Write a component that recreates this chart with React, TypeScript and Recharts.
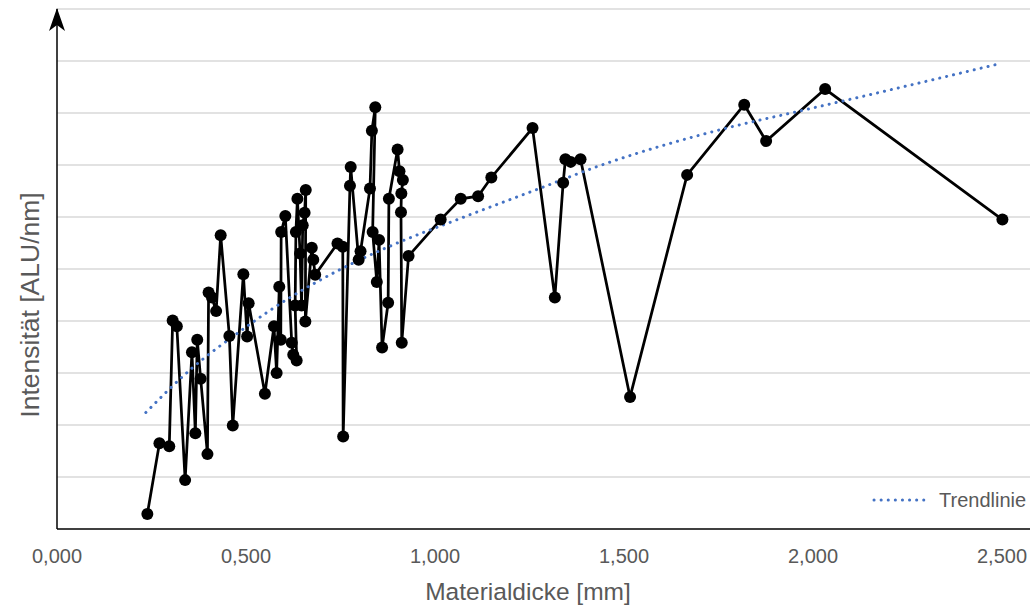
import { LineChart, Line, XAxis, YAxis, ReferenceLine } from 'recharts';

// Materialdicke [mm] of each measurement, in the order they are joined
const thickness = [
  0.239, 0.271, 0.297, 0.306, 0.317, 0.339, 0.357, 0.366, 0.371, 0.38,
  0.398, 0.401, 0.41, 0.421, 0.433, 0.456, 0.465, 0.493, 0.503, 0.507,
  0.55, 0.574, 0.581, 0.588, 0.592, 0.593, 0.604, 0.621, 0.625, 0.634,
  0.63, 0.632, 0.636, 0.643, 0.647, 0.65, 0.655, 0.658, 0.657, 0.674,
  0.678, 0.683, 0.742, 0.756, 0.757, 0.775, 0.777, 0.798, 0.803, 0.828,
  0.833, 0.842, 0.835, 0.846, 0.852, 0.86, 0.876, 0.878, 0.901, 0.906,
  0.915, 0.911, 0.91, 0.912, 0.93, 1.015, 1.068, 1.114, 1.149, 1.258,
  1.317, 1.339, 1.345, 1.359, 1.385, 1.516, 1.667, 1.818, 1.876, 2.032,
  2.501,
];

// Intensität (no scale shown on the axis, read as grid steps)
const intensity = [
  0.29, 1.65, 1.59, 4.01, 3.9, 0.94, 3.4, 1.84, 3.64, 2.89,
  1.44, 4.55, 4.45, 4.19, 5.65, 3.71, 1.99, 4.9, 3.7, 4.34,
  2.6, 3.9, 3.0, 4.66, 3.64, 5.71, 6.02, 3.58, 3.35, 3.24,
  4.3, 5.71, 6.35, 5.3, 4.3, 5.84, 6.08, 6.52, 3.99, 5.41,
  5.18, 4.89, 5.49, 5.43, 1.78, 6.6, 6.96, 5.18, 5.34, 6.55,
  7.66, 8.11, 5.71, 4.75, 5.56, 3.49, 4.35, 6.35, 7.3, 6.88,
  6.71, 6.45, 6.09, 3.58, 5.25, 5.95, 6.35, 6.4, 6.76, 7.71,
  4.45, 6.66, 7.11, 7.06, 7.11, 2.54, 6.81, 8.16, 7.46, 8.46,
  5.95,
];

// points
const trendX = [0.235, 0.352, 0.484, 0.616, 0.749, 0.881, 1.066, 1.259, 1.437, 1.788, 1.966, 2.143, 2.317, 2.489];
const trendY = [2.24, 3.06, 3.8, 4.45, 4.99, 5.44, 5.97, 6.5, 6.99, 7.74, 8.04, 8.34, 8.64, 8.94];

const xTicks = [0, 0.5, 1, 1.5, 2, 2.5];
const yTicks = [0, 1, 2, 3, 4, 5, 6, 7, 8, 9, 10];

const measured = thickness.map((x, i) => ({ x, y: intensity[i] }));
const trend = trendX.map((x, i) => ({ x, y: trendY[i] }));

const FONT = '"Liberation Sans", Arial, sans-serif';
const GRAY = '#595959';
const TREND_COLOR = '#4472C4';

export default function App() {
  return (
    <div style={{ position: 'absolute', left: 0, top: 0, width: 1030, height: 611, background: '#fff', fontFamily: FONT }}>
      <LineChart width={1030} height={611} margin={{ top: 9, right: 0, left: 56, bottom: 42 }}>
        <XAxis
          type="number"
          dataKey="x"
          domain={[0, 2.574]}
          ticks={xTicks}
          allowDataOverflow
          height={40}
          tickLine={false}
          tickMargin={14}
          axisLine={{ stroke: '#000', strokeWidth: 1.5 }}
          tick={{ fill: GRAY, fontSize: 20, fontFamily: FONT }}
          tickFormatter={(v: number) => v.toFixed(3).replace('.', ',')}
        />
        <YAxis
          type="number"
          dataKey="y"
          domain={[0, 10]}
          ticks={yTicks}
          width={1}
          tick={false}
          tickLine={false}
          axisLine={{ stroke: '#000', strokeWidth: 1.5 }}
        />
        {/* horizontal grid */}
        {yTicks.slice(1).map((v) => (
          <ReferenceLine key={v} y={v} stroke="#d9d9d9" strokeWidth={1.5} />
        ))}
        <Line
          data={measured}
          dataKey="y"
          type="linear"
          stroke="#000"
          strokeWidth={2.75}
          dot={{ r: 6, fill: '#000', stroke: '#000', strokeWidth: 0 }}
          activeDot={false}
          isAnimationActive={false}
        />
        <Line
          data={trend}
          dataKey="y"
          type="monotone"
          stroke={TREND_COLOR}
          strokeWidth={3}
          strokeDasharray="0.1 7"
          strokeLinecap="round"
          dot={false}
          activeDot={false}
          isAnimationActive={false}
        />
      </LineChart>

      {/* arrow head on the value axis */}
      <svg width={1030} height={611} style={{ position: 'absolute', left: 0, top: 0, pointerEvents: 'none' }}>
        <polygon points="57,8 49,31 57,25 65,31" fill="#000" />
      </svg>

      {/* legend */}
      <div style={{ position: 'absolute', left: 872, top: 488, display: 'flex', alignItems: 'center', gap: 7 }}>
        <svg width={60} height={6}>
          <line x1={2} y1={3} x2={58} y2={3} stroke={TREND_COLOR} strokeWidth={3} strokeDasharray="0.1 7" strokeLinecap="round" />
        </svg>
        <span style={{ fontSize: 20, color: GRAY, lineHeight: '24px' }}>Trendlinie</span>
      </div>

      {/* axis titles */}
      <div style={{ position: 'absolute', left: 328, width: 400, top: 578, textAlign: 'center', fontSize: 24.5, color: GRAY, lineHeight: '28px' }}>
        Materialdicke [mm]
      </div>
      <div
        style={{
          position: 'absolute',
          left: 30,
          top: 305,
          transform: 'translate(-50%, -50%) rotate(-90deg)',
          whiteSpace: 'nowrap',
          fontSize: 26.5,
          color: GRAY,
          lineHeight: '30px',
        }}
      >
        Intensität [ALU/nm]
      </div>
    </div>
  );
}
